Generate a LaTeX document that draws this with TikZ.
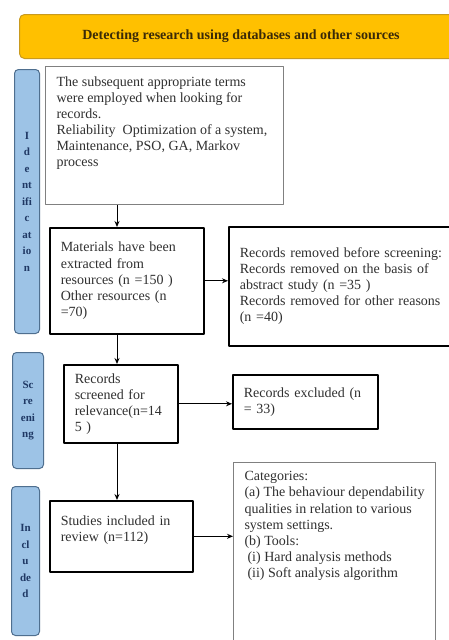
\documentclass[tikz,border=0pt]{standalone}
\usepackage{fontspec}
\setmainfont{Liberation Serif}
\usetikzlibrary{arrows.meta,calc,positioning}
\definecolor{bannerfill}{HTML}{FFC000}
\definecolor{bannerline}{HTML}{C99A1E}
\definecolor{bannertext}{HTML}{3A2A08}
\definecolor{barfill}{HTML}{9DC3E6}
\definecolor{barline}{HTML}{4F6F8F}
\definecolor{bartext}{HTML}{1F3864}
\definecolor{boxtext}{HTML}{303030}

\begin{document}
\begin{tikzpicture}[x=1pt,y=-1pt,line join=round,
  txt/.style={font=\fontsize{14}{16.1}\selectfont,text=boxtext},
  box/.style={txt,draw=black,line width=1.6pt,anchor=north west,align=left,inner xsep=11pt,inner ysep=0pt},
  gbox/.style={txt,draw=gray,line width=1.1pt,anchor=north west,inner xsep=11pt},
  bar/.style={draw=barline,fill=barfill,rounded corners=4pt,line width=1pt,anchor=north west,inner sep=0pt,align=center,font=\fontsize{11}{16.5}\selectfont\bfseries,text=bartext},
  arr/.style={-{Stealth[length=6pt,width=5pt]},line width=1pt}]
\clip (0,0) rectangle (449,640);
\fill[white] (0,0) rectangle (449,640);
\coordinate (sp) at (117,0);
\node[draw=bannerline,fill=bannerfill,rounded corners=5pt,line width=1pt,anchor=north west,minimum width=443pt,minimum height=44pt,font=\fontsize{14}{16}\selectfont\bfseries,text=bannertext] (top) at (19,14) {Detecting research using databases and other sources};
\node[bar,minimum width=25pt,minimum height=264pt] (id) at (14,69) {I\\d\\e\\nt\\ifi\\c\\at\\io\\n};
\node[bar,minimum width=31pt,minimum height=116pt] (sc) at (12,352) {Sc\\re\\eni\\ng};
\node[bar,minimum width=28pt,minimum height=149pt] (in) at (11,486) {In\\cl\\u\\de\\d};
\node[gbox,inner ysep=10pt] (b1) at (45,66) {\parbox[t][118pt][t]{216pt}{The subsequent appropriate terms\\were employed when looking for\\records.\\Reliability \ Optimization of a system,\\Maintenance, PSO, GA, Markov\\process}};
\node[box,text width=132pt,minimum height=106pt] (b2) at (49,227) {Materials have been\\extracted from\\resources (n =150 )\\Other resources (n\\=70)};
\node[box,text width=218pt,minimum height=119pt] (b3) at (228,226) {Records removed before screening:\\Records removed on the basis of\\abstract study (n =35 )\\Records removed for other reasons\\(n =40)};
\node[box,text width=92pt,minimum height=78pt] (b4) at (63,364) {Records\\screened for\\relevance(n=14\\5 )};
\node[box,text width=123pt,minimum height=54pt] (b5) at (232,374) {Records excluded (n\\= 33)};
\node[box,text width=121pt,minimum height=71pt] (b6) at (49,500) {Studies included in\\review (n=112)\\\mbox{}};
\node[gbox,inner ysep=9pt] (b7) at (233,462) {\parbox[t][200pt][t]{180pt}{Categories:\\(a) The behaviour dependability\\qualities in relation to various\\system settings.\\(b) Tools:\\\hspace*{3pt}(i) Hard analysis methods\\\hspace*{3pt}(ii) Soft analysis algorithm}};
\foreach \a/\b in {b1/b2,b2/b4,b4/b6}{\draw[arr] (\a.south -| sp) -- (\b.north -| sp);}
\foreach \a/\b in {b2/b3,b4/b5,b6/b7}{\draw[arr] (\a.east) -- (\a.east -| \b.west);}
\end{tikzpicture}
\end{document}
